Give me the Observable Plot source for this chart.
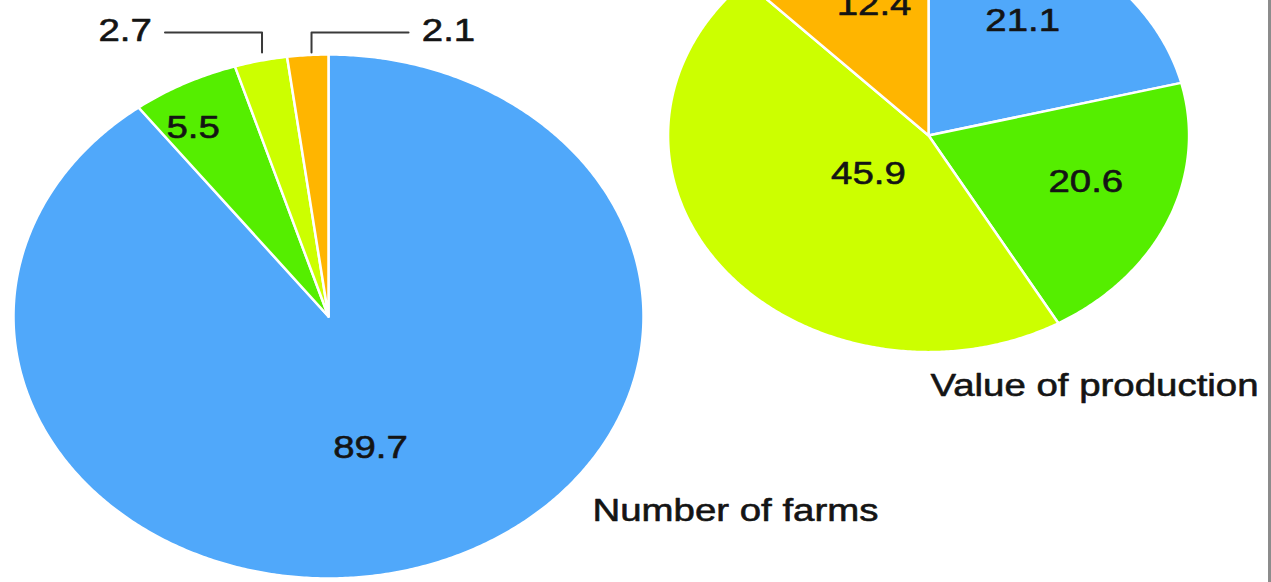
<!DOCTYPE html>
<html><head><meta charset="utf-8">
<script src="https://cdn.jsdelivr.net/npm/d3@7"></script>
<script src="https://cdn.jsdelivr.net/npm/@observablehq/plot@0.6"></script>
<style>
html,body{margin:0;padding:0;background:#fff;}
#wrap{position:relative;width:1271px;height:582px;overflow:hidden;background:#fff;}
#edge{position:absolute;top:0;right:0;width:3px;height:582px;background:#8c8c8c;}
</style></head><body>
<div id="wrap"><div id="edge"></div></div>
<script>
// ---- data ----
const categories = ["Small family farms", "Midsize family farms", "Large-scale family farms", "Nonfamily farms"];
const farmsShare = [89.7, 5.5, 2.7, 2.1];
const productionShare = [21.1, 20.6, 45.9, 12.4];
const pieTitles = ["Number of farms", "Value of production"];

// ---- styling / layout (code, not data) ----
const colors = ["#50a8fa", "#55ee00", "#ccff00", "#ffb500"];
const W = 1271, H = 582;
const pies = [
  {values: farmsShare, title: pieTitles[0], cx: 0, cy: 0, r: 1,
   labelFrac: v => v > 50 ? 0.517 : 0.84, labelTurn: v => v > 50 ? 0.010 : -0.010,
   titleDx: 0.838, titleDy: -0.74},
  {values: productionShare, title: pieTitles[1], cx: 1.905, cy: 0.691, r: 0.827,
   labelFrac: v => v > 40 ? 0.29 : 0.64, labelTurn: v => v > 40 ? 0 : v < 15 ? 0.009 : -0.01,
   titleDx: 0.006, titleDy: -0.954}
];

const slicePts = [], inLabels = [], leftLabels = [], rightLabels = [], leaderPts = [], titles = [];
pies.forEach((p, pi) => {
  let cum = 0;
  const small = p.values.map((v, i) => i).filter(i => p.values[i] < 3);
  p.values.forEach((v, i) => {
    const a0 = cum / 100 * 2 * Math.PI, a1 = (cum + v) / 100 * 2 * Math.PI;
    cum += v;
    const key = pi + "-" + i;
    const n = Math.max(2, Math.ceil((a1 - a0) / (Math.PI / 360)));
    slicePts.push({key, cat: categories[i], x: p.cx, y: p.cy});
    for (let k = 0; k <= n; k++) {
      const a = a0 + (a1 - a0) * k / n;
      slicePts.push({key, cat: categories[i], x: p.cx + p.r * Math.sin(a), y: p.cy + p.r * Math.cos(a)});
    }
    const m = (a0 + a1) / 2;
    const label = String(v);
    if (v < 3) {
      const goRight = small.indexOf(i) === small.length - 1;
      const sx = p.cx + p.r * Math.sin(m) + (goRight ? 0.012 : 0.004);
      const y0 = p.cy + p.r * 1.008, y1 = p.cy + p.r * 1.084;
      const ex = sx + (goRight ? 0.308 : -0.308);
      leaderPts.push({key, x: sx, y: y0}, {key, x: sx, y: y1}, {key, x: ex, y: y1});
      const lab = {x: ex + (goRight ? 0.042 : -0.042), y: y1 + 0.008, text: label};
      (goRight ? rightLabels : leftLabels).push(lab);
    } else {
      const rr = p.r * p.labelFrac(v);
      const mm = m + p.labelTurn(v) * 2 * Math.PI;
      inLabels.push({x: p.cx + rr * Math.sin(mm), y: p.cy + rr * Math.cos(mm), text: label});
    }
  });
  titles.push({x: p.cx + p.titleDx, y: p.cy + p.titleDy, text: p.title});
});

const font = {fontSize: 32, fontFamily: "Liberation Sans, Arial, Helvetica, sans-serif",
  fill: "#141414", stroke: "#141414", strokeWidth: 0.6};

const chart = Plot.plot({
  width: W, height: H, margin: 0,
  style: {background: "transparent", overflow: "visible"},
  x: {domain: [-1.0413, 2.9937], axis: null},
  y: {domain: [-1.0153, 1.2061], axis: null},
  color: {domain: categories, range: colors},
  marks: [
    Plot.line(slicePts, {x: "x", y: "y", z: "key", fill: "cat", stroke: "white", strokeWidth: 2.5,
      strokeLinejoin: "round", curve: "linear-closed"}),
    Plot.line(leaderPts, {x: "x", y: "y", z: "key", stroke: "#3a3a3a", strokeWidth: 2}),
    Plot.text(inLabels, {x: "x", y: "y", text: "text", textAnchor: "middle", ...font}),
    Plot.text(leftLabels, {x: "x", y: "y", text: "text", textAnchor: "end", ...font}),
    Plot.text(rightLabels, {x: "x", y: "y", text: "text", textAnchor: "start", ...font}),
    Plot.text(titles, {x: "x", y: "y", text: "text", textAnchor: "start", ...font})
  ]
});
document.getElementById("wrap").prepend(chart);
// the original artwork is stretched horizontally; stretch the glyphs the same way
d3.select(chart).selectAll("text").each(function () {
  const len = this.getComputedTextLength();
  if (len > 0) {
    this.setAttribute("textLength", (len * 1.2).toFixed(1));
    this.setAttribute("lengthAdjust", "spacingAndGlyphs");
  }
});
</script>
</body></html>
